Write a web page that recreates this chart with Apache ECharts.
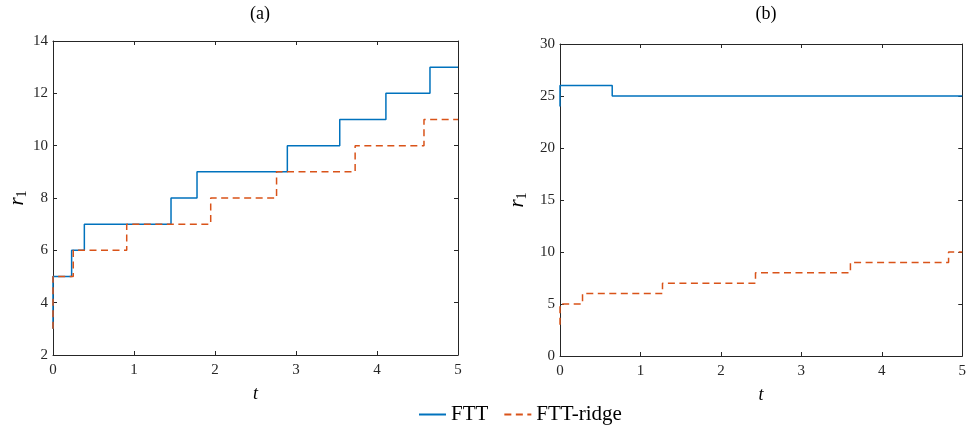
<!DOCTYPE html>
<html>
<head>
<meta charset="utf-8">
<script src="https://cdn.jsdelivr.net/npm/echarts@6/dist/echarts.min.js"></script>
<style>
  html, body { margin: 0; padding: 0; background: #fff; }
  #chart { width: 969px; height: 431px; }
</style>
</head>
<body>
<div id="chart"></div>
<script>
// Panel (a): rank r1 over time t, FTT vs FTT-ridge (step-after values)
const fttA_t   = [0, 0, 0.23, 0.387, 1.457, 1.778, 2.893, 3.54, 4.11, 4.654, 5];
const fttA_r   = [3, 5, 6, 7, 8, 9, 10, 11, 12, 13, 13];
const ridgeA_t = [0, 0, 0.25, 0.91, 1.947, 2.76, 3.73, 4.58, 5];
const ridgeA_r = [3, 5, 6, 7, 8, 9, 10, 11, 11];

// Panel (b)
const fttB_t   = [0, 0, 0.649, 5];
const fttB_r   = [24, 26, 25, 25];
const ridgeB_t = [0, 0, 0.28, 1.274, 2.43, 3.61, 4.83, 5];
const ridgeB_r = [3, 5, 6, 7, 8, 9, 10, 10];

// Axis ranges / ticks
const xTicks  = [0, 1, 2, 3, 4, 5];
const yRangeA = [2, 14, 2];
const yRangeB = [0, 30, 5];

const panelTitles = ['(a)', '(b)'];
const seriesNames = ['FTT', 'FTT-ridge'];

const BLUE = '#0072BD';
const ORANGE = '#D95319';
const AXIS = '#262626';
const SERIF = '"Liberation Serif", "DejaVu Serif", serif';

const pairs = (ts, rs) => ts.map((t, i) => [t, rs[i]]);

const grids = [
  { left: 53, right: 511, top: 41, bottom: 76 },
  { left: 560, right: 6, top: 44, bottom: 75 }
];

function xAxisFor(gi, pos) {
  const main = pos === 'bottom';
  return {
    type: 'value', gridIndex: gi, position: pos,
    min: xTicks[0], max: xTicks[xTicks.length - 1], interval: 1,
    name: main ? 't' : '',
    nameLocation: 'middle', nameGap: 30,
    nameTextStyle: { fontFamily: SERIF, fontStyle: 'italic', fontSize: 18, color: '#000' },
    axisLine: { show: true, onZero: false, lineStyle: { color: AXIS, width: 1 } },
    axisTick: { show: true, inside: true, length: 4, lineStyle: { color: AXIS } },
    axisLabel: { show: main, fontFamily: SERIF, fontSize: 15, color: AXIS, margin: 8 },
    splitLine: { show: false }
  };
}

function yAxisFor(gi, pos, range) {
  const main = pos === 'left';
  return {
    type: 'value', gridIndex: gi, position: pos,
    min: range[0], max: range[1], interval: range[2],
    name: main ? '{r|r}{s|1}' : '',
    nameLocation: 'middle', nameGap: gi === 0 ? 23 : 31, nameRotate: 90,
    nameTextStyle: {
      rich: {
        r: { fontFamily: SERIF, fontStyle: 'italic', fontSize: 21, color: '#000' },
        s: { fontFamily: SERIF, fontSize: 14, color: '#000', verticalAlign: 'bottom', padding: [9, 0, 0, 0] }
      }
    },
    axisLine: { show: true, onZero: false, lineStyle: { color: AXIS, width: 1 } },
    axisTick: { show: true, inside: true, length: 4, lineStyle: { color: AXIS } },
    axisLabel: { show: main, fontFamily: SERIF, fontSize: 15, color: AXIS, margin: 5 },
    splitLine: { show: false }
  };
}

function stepSeries(name, gi, data, dashed) {
  return {
    name, type: 'line', step: 'end',
    xAxisIndex: gi * 2, yAxisIndex: gi * 2,
    data, symbol: 'none', animation: false,
    lineStyle: {
      color: dashed ? ORANGE : BLUE, width: 1.5,
      type: dashed ? [7, 4.5] : 'solid'
    },
    itemStyle: { color: dashed ? ORANGE : BLUE }
  };
}

const option = {
  backgroundColor: '#fff',
  animation: false,
  title: [
    { text: panelTitles[0], left: 255, top: 0, textAlign: 'center',
      textStyle: { fontFamily: SERIF, fontWeight: 'normal', fontSize: 18, color: '#000' } },
    { text: panelTitles[1], left: 761, top: 0, textAlign: 'center',
      textStyle: { fontFamily: SERIF, fontWeight: 'normal', fontSize: 18, color: '#000' } }
  ],
  legend: {
    data: seriesNames,
    left: 413, top: 399,
    itemWidth: 27, itemHeight: 12, itemGap: 15,
    itemStyle: { opacity: 0 },
    textStyle: { fontFamily: SERIF, fontSize: 21, color: '#000' }
  },
  grid: grids,
  xAxis: [
    xAxisFor(0, 'bottom'), xAxisFor(0, 'top'),
    xAxisFor(1, 'bottom'), xAxisFor(1, 'top')
  ],
  yAxis: [
    yAxisFor(0, 'left', yRangeA), yAxisFor(0, 'right', yRangeA),
    yAxisFor(1, 'left', yRangeB), yAxisFor(1, 'right', yRangeB)
  ],
  series: [
    stepSeries(seriesNames[0], 0, pairs(fttA_t, fttA_r), false),
    stepSeries(seriesNames[1], 0, pairs(ridgeA_t, ridgeA_r), true),
    stepSeries(seriesNames[0], 1, pairs(fttB_t, fttB_r), false),
    stepSeries(seriesNames[1], 1, pairs(ridgeB_t, ridgeB_r), true)
  ]
};

echarts.init(document.getElementById('chart'), null, { renderer: 'canvas' }).setOption(option);
</script>
</body>
</html>
